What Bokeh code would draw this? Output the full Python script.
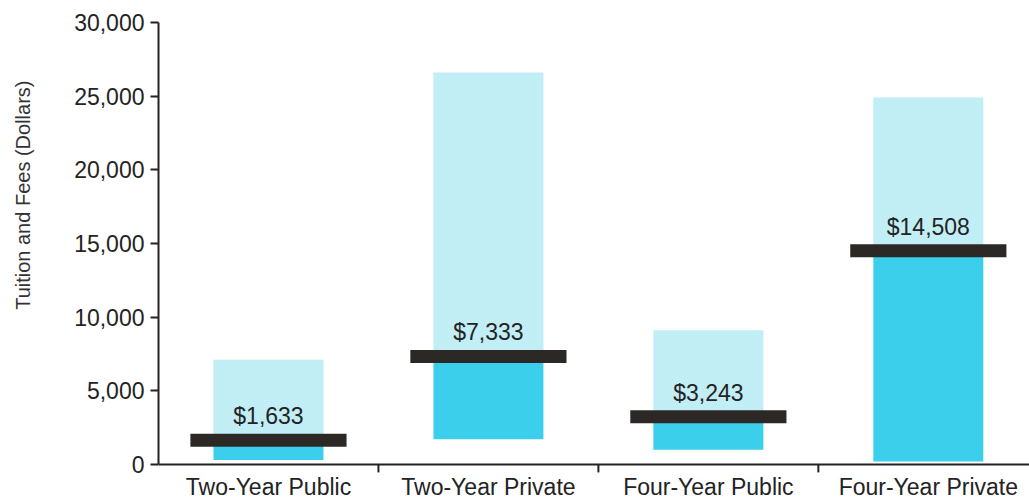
import math
from bokeh.plotting import figure
from bokeh.models import (FixedTicker, Range1d, ColumnDataSource, NumeralTickFormatter,
                          Span, LinearAxis, Title, CustomJSTickFormatter)
from bokeh.embed import file_html
from bokeh.resources import INLINE
from bokeh.core.properties import value

categories = ["Two-Year Public", "Two-Year Private", "Four-Year Public", "Four-Year Private"]
low_values = [300, 1700, 1000, 200]
average_values = [1633, 7333, 3243, 14508]
high_values = [7100, 26600, 9100, 24900]
average_labels = ["$1,633", "$7,333", "$3,243", "$14,508"]
y_ticks = [0, 5000, 10000, 15000, 20000, 25000, 30000]

positions = [i + 0.5 for i in range(len(categories))]
boundaries = [float(i) for i in range(1, len(categories))]

src = ColumnDataSource(dict(x=positions, low=low_values, avg=average_values,
                            high=high_values, lab=average_labels))
cat_src = ColumnDataSource(dict(x=positions, y=[0] * len(categories), name=categories))
bnd_src = ColumnDataSource(dict(x=boundaries, y=[0] * len(boundaries)))

FONT = "Liberation Sans"
INK = "#232323"

p = figure(width=1029, height=500, output_backend="svg", toolbar_location=None,
           x_range=Range1d(0, 3.96), y_range=Range1d(-2450, 30000),
           min_border_left=158, min_border_right=0, min_border_top=22, min_border_bottom=0)
p.outline_line_color = None
p.grid.grid_line_color = None
p.background_fill_color = "white"
p.xaxis.visible = False

# light range (average to high)
p.vbar(x="x", width=0.5, bottom="avg", top="high", source=src,
       fill_color="#c6f0f7", line_color=None,
       hatch_pattern="right_diagonal_line", hatch_color="#b0e4ee",
       hatch_scale=4, hatch_weight=0.7, hatch_alpha=0.6)
# dark range (low to average)
p.vbar(x="x", width=0.5, bottom="low", top="avg", source=src,
       fill_color="#3ccfec", line_color=None)
# average marker
p.rect(x="x", y="avg", width=0.71, height=13, height_units="screen", source=src,
       fill_color="#2b2825", line_color=None)
# average labels
p.text(x="x", y="avg", text="lab", source=src, text_align="center", text_baseline="bottom",
       y_offset=-11, text_font=value(FONT), text_font_size="23px", text_color=INK)

# x axis line, boundary ticks and category labels
p.add_layout(Span(location=0, dimension="width", line_color=INK, line_width=2))
p.ray(x="x", y="y", length=8, length_units="screen", angle=-math.pi / 2, source=bnd_src,
      line_color=INK, line_width=2)
p.text(x="x", y="y", text="name", source=cat_src, text_align="center", text_baseline="top",
       y_offset=10, text_font=value(FONT), text_font_size="23px", text_color=INK)

# y axis
ya = p.yaxis[0]
ya.bounds = (0, 30000)
ya.ticker = FixedTicker(ticks=y_ticks)
ya.formatter = NumeralTickFormatter(format="0,0")
ya.major_label_text_font = FONT
ya.major_label_text_font_size = "23px"
ya.major_label_text_color = INK
ya.major_tick_in = 0
ya.major_tick_out = 8
ya.minor_tick_line_color = None
ya.axis_line_width = 2
ya.axis_line_color = INK
ya.major_tick_line_width = 2
ya.major_tick_line_color = INK
ya.major_label_standoff = 6

# invisible spacer axis between the y axis and its title
spacer = LinearAxis(ticker=FixedTicker(ticks=[15000]),
                    formatter=CustomJSTickFormatter(code="return ''"),
                    axis_line_color=None, major_tick_line_color="white",
                    minor_tick_line_color=None, major_tick_out=33, major_tick_in=0,
                    minor_tick_out=0, minor_tick_in=0, major_label_standoff=0)
p.add_layout(spacer, "left")

ytitle = Title(text="Tuition and Fees (Dollars)", align="right", offset=58,
               text_font=FONT, text_font_size="20px", text_font_style="normal",
               text_color="#333333")
p.add_layout(ytitle, "left")

open("out.html", "w").write(file_html(p, INLINE))
